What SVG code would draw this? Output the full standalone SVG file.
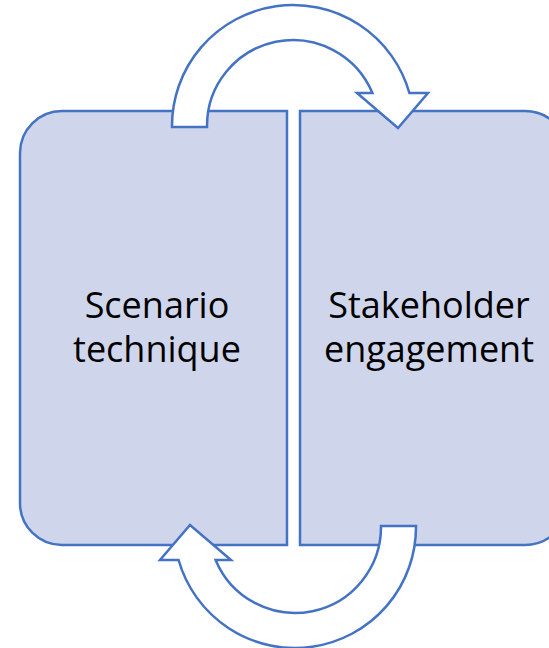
<svg xmlns="http://www.w3.org/2000/svg" width="549" height="648" viewBox="0 0 549 648">
<style>
.box{fill:#CFD5EA;stroke:#4472C4;stroke-width:2.5}
.arrow{fill:#FFFFFF;stroke:#4472C4;stroke-width:2.5;stroke-linejoin:miter}
.lbl{font-family:"Open Sans","Noto Sans","Liberation Sans",sans-serif;font-size:36px;fill:#000000;text-anchor:middle}
</style>
<rect width="549" height="648" fill="#FFFFFF"/>
<g id="node-scenario">
<path class="box" d="M287,111 L62,111 A42,42 0 0 0 20,153 L20,503 A42,42 0 0 0 62,545 L287,545 Z"/>
<text class="lbl" x="157" y="318">Scenario</text>
<text class="lbl" x="157" y="362">technique</text>
</g>
<g id="node-stakeholder">
<path class="box" d="M300,111 L525,111 A43,43 0 0 1 568,154 L568,502 A43,43 0 0 1 525,545 L300,545 Z"/>
<text class="lbl" x="429" y="318">Stakeholder</text>
<text class="lbl" x="429" y="362">engagement</text>
</g>
<g id="connectors">
<path id="arrow-top" class="arrow" d="M172,127 A121,121 0 0 1 409.4,93 L428,93 L398,128 L357,93 L372.4,93 A86,86 0 0 0 207,127 Z"/>
<path id="arrow-bottom" class="arrow" transform="rotate(180 294 326.5)" d="M172,127 A121,121 0 0 1 409.4,93 L428,93 L398,128 L357,93 L372.4,93 A86,86 0 0 0 207,127 Z"/>
</g>
</svg>
